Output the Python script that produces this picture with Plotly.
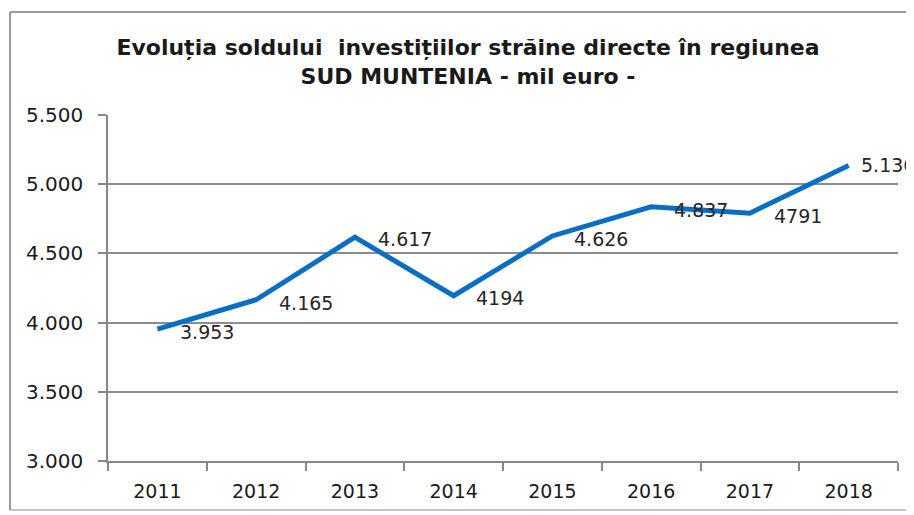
import plotly.graph_objects as go

years = ["2011", "2012", "2013", "2014", "2015", "2016", "2017", "2018"]
values = [3953, 4165, 4617, 4194, 4626, 4837, 4791, 5136]
labels = ["3.953", "4.165", "4.617", "4194", "4.626", "4.837", "4791", "5.136"]
label_xshift = [21, 21, 21, 20, 20, 21, 22, 10]
label_yshift = [-3, -3, -2, -2, -3, -3, -3, 0]

# page has an 8px body margin: figure origin sits at screen (8, 8)
OFF = 8
W, H = 914 - OFF, 515 - OFF
L, R, T, B = 108 - OFF, 16, 115 - OFF, 54

fig = go.Figure()
fig.add_trace(go.Scatter(
    x=years, y=values, mode="lines",
    line=dict(color="#0a6fc2", width=5),
    hoverinfo="skip", showlegend=False,
))

for i, (y, t, dx, dy) in enumerate(zip(values, labels, label_xshift, label_yshift)):
    fig.add_annotation(x=i, y=y, xref="x", yref="y", text=t, showarrow=False,
                       xanchor="left", yanchor="middle", xshift=dx, yshift=dy,
                       font=dict(family="DejaVu Sans", size=19, color="#262626"))

pw, ph = W - L - R, H - T - B
def px_x(p):
    return (p - OFF - L) / pw
def px_y(p):
    return (H - B - (p - OFF)) / ph

border = "#9a9a9a"
bx0, bx1, by0, by1 = px_x(10), px_x(913), px_y(12), px_y(510)
fig.add_shape(type="line", xref="paper", yref="paper", x0=bx0, x1=bx1, y0=by0, y1=by0,
              line=dict(color=border, width=2))
fig.add_shape(type="line", xref="paper", yref="paper", x0=bx0, x1=bx1, y0=by1, y1=by1,
              line=dict(color="#c4c4c4", width=2))
fig.add_shape(type="line", xref="paper", yref="paper", x0=bx0, x1=bx0, y0=by0, y1=by1,
              line=dict(color=border, width=2))
fig.add_shape(type="line", xref="paper", yref="paper", x0=bx1, x1=bx1, y0=by0, y1=by1,
              line=dict(color="#e4e4e4", width=1))

fig.update_layout(
    width=W, height=H,
    margin=dict(l=L, r=R, t=T, b=B),
    paper_bgcolor="white", plot_bgcolor="white",
    separators=",.",
    title=dict(
        text="Evoluția soldului  investițiilor străine directe în regiunea<br>SUD MUNTENIA - mil euro -",
        x=(468 - OFF) / W, xanchor="center", y=1 - (55 - OFF) / H, yanchor="middle",
        font=dict(family="DejaVu Sans", size=22, color="#1a1a1a", weight="bold"),
    ),
    xaxis=dict(
        type="category", range=[-0.5, 7.5], tickson="boundaries",
        ticks="outside", ticklen=8, tickcolor="#888888", tickwidth=1.5,
        showline=True, linecolor="#888888", linewidth=1.5,
        showgrid=False, zeroline=False, ticklabelstandoff=12,
        tickfont=dict(family="DejaVu Sans", size=19, color="#1a1a1a"),
    ),
    yaxis=dict(
        range=[3000, 5500], dtick=500, tickformat=",.0f",
        ticks="outside", ticklen=8, tickcolor="#888888", tickwidth=1.5,
        showline=True, linecolor="#888888", linewidth=1.5,
        showgrid=True, gridcolor="#8c8c8c", gridwidth=1.5, zeroline=False,
        ticklabelstandoff=11,
        tickfont=dict(family="DejaVu Sans", size=20, color="#1a1a1a"),
    ),
)

fig.write_html("out.html")
